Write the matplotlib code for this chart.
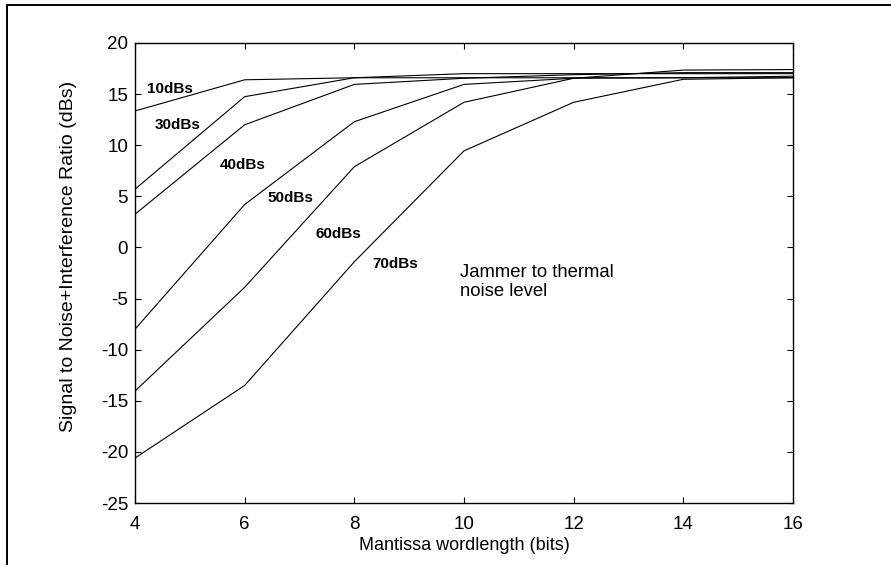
import numpy as np
import matplotlib.pyplot as plt
from matplotlib.lines import Line2D

plt.rcParams['font.family'] = ['Liberation Sans', 'DejaVu Sans']
plt.rcParams['axes.unicode_minus'] = False

# Mantissa wordlength (bits)
bits = [4, 6, 8, 10, 12, 14, 16]

# SNIR (dB) for each jammer-to-thermal-noise level
snir_10 = [13.35, 16.4, 16.6, 17.0, 17.0, 17.0, 17.0]
snir_30 = [5.7, 14.75, 16.6, 16.6, 16.6, 16.6, 16.6]
snir_40 = [3.25, 12.0, 15.95, 16.55, 16.9, 17.1, 17.1]
snir_50 = [-8.0, 4.2, 12.3, 15.95, 16.55, 17.35, 17.4]
snir_60 = [-14.05, -3.9, 7.9, 14.2, 16.55, 16.6, 16.75]
snir_70 = [-20.6, -13.5, -1.4, 9.45, 14.2, 16.45, 16.6]

curves = [snir_10, snir_30, snir_40, snir_50, snir_60, snir_70]

# curve labels and where they sit
labels = ['10dBs', '30dBs', '40dBs', '50dBs', '60dBs', '70dBs']
label_x = [4.21, 4.36, 5.54, 6.41, 7.29, 8.33]
label_y = [15.5, 12.0, 8.06, 4.83, 1.31, -1.62]

fig = plt.figure(figsize=(8.91, 5.65), dpi=100)
ax = fig.add_axes([0.1515, 0.1097, 0.7385, 0.8142])

for y in curves:
    ax.plot(bits, y, color='black', linewidth=0.8)

for lab, lx, ly in zip(labels, label_x, label_y):
    ax.text(lx, ly, lab, fontsize=11, fontweight='bold', ha='left', va='center')

ax.text(9.93, -3.4, 'Jammer to thermal\nnoise level', fontsize=13.3,
        ha='left', va='center', linespacing=1.12)

ax.set_xlim(4, 16)
ax.set_ylim(-25, 20)
ax.set_xticks(np.arange(4, 17, 2))
ax.set_yticks(np.arange(-25, 21, 5))
ax.tick_params(direction='in', top=True, right=True, length=4, width=0.8,
               labelsize=13.5)
ax.tick_params(axis='x', pad=9)
ax.tick_params(axis='y', pad=5)
for s in ax.spines.values():
    s.set_linewidth(1.0)

ax.set_xlabel('Mantissa wordlength (bits)', fontsize=13, labelpad=3)
ax.set_ylabel('Signal to Noise+Interference Ratio (dBs)', fontsize=14)
ax.yaxis.set_label_coords(-0.088, 0.537)

# frame around the figure (only top and left edges visible)
fig.add_artist(Line2D([0.0079, 1.0], [0.9912, 0.9912], color='black', linewidth=1.4,
                      transform=fig.transFigure))
fig.add_artist(Line2D([0.0079, 0.0079], [0.0, 0.9912], color='black', linewidth=1.4,
                      transform=fig.transFigure))

fig.savefig('out.png', dpi=100)
